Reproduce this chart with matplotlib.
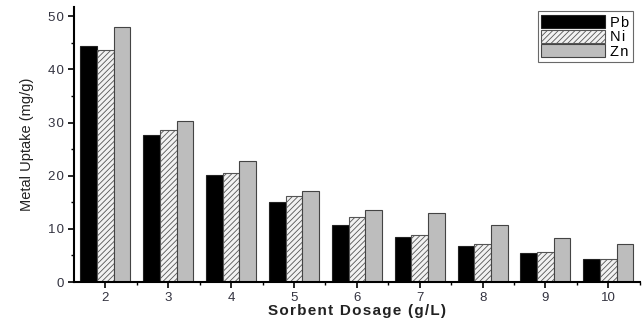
import numpy as np
import matplotlib
matplotlib.use("Agg")
import matplotlib.pyplot as plt
from matplotlib.ticker import MultipleLocator

# sorbent dosage (g/L) and metal uptake (mg/g)
dosage = [2, 3, 4, 5, 6, 7, 8, 9, 10]
pb = [44.4, 27.6, 20.2, 15.0, 10.8, 8.5, 6.8, 5.5, 4.4]
ni = [43.7, 28.6, 20.5, 16.1, 12.3, 8.9, 7.1, 5.6, 4.4]
zn = [47.9, 30.3, 22.7, 17.1, 13.5, 13.0, 10.7, 8.3, 7.1]
metals = ['Pb', 'Ni', 'Zn']

plt.rcParams['font.family'] = ['Liberation Sans', 'DejaVu Sans']
plt.rcParams['hatch.color'] = '#777777'
plt.rcParams['hatch.linewidth'] = 0.6

def spaced(s):
    # loose letter spacing like the original figure
    return '\u200a'.join(s)

fig = plt.figure(figsize=(6.43, 3.22), dpi=100)
ax = fig.add_axes([0.115, 0.124, 0.88, 0.854])

x = np.array(dosage)
w = 0.265
ax.bar(x - w, pb, w, color='black', edgecolor='#222222', linewidth=0.8, label=spaced(metals[0]))
ax.bar(x, ni, w, color='#f2f2f2', edgecolor='#555555', hatch='//////', linewidth=0.8, label=spaced(metals[1]))
ax.bar(x + w, zn, w, color='#bdbdbd', edgecolor='#444444', linewidth=0.8, label=spaced(metals[2]))

ax.set_xlim(1.5, 10.5)
ax.set_xticks(dosage)
ax.set_xticks([d + 0.5 for d in dosage], minor=True)
yt = [0, 10, 20, 30, 40, 50]
ax.set_yticks(yt)
ax.set_yticklabels([spaced(str(v)) for v in yt])
ax.yaxis.set_minor_locator(MultipleLocator(5))
ax.set_ylim(0, 51.7)

for s in ['top', 'right']:
    ax.spines[s].set_visible(False)
for s in ['left', 'bottom']:
    ax.spines[s].set_linewidth(1.5)

ax.tick_params(axis='both', which='major', direction='out', length=4, width=1.2,
               labelsize=9.5, labelcolor='#333340')
ax.tick_params(axis='both', which='minor', direction='out', length=2, width=1.0)

ax.set_xlabel(spaced('Sorbent Dosage (g/L)'), fontsize=11, color='#222222',
              fontweight='semibold', labelpad=0)
ax.set_ylabel('Metal Uptake (mg/g)', fontsize=10.5, color='#222222',
              family=['Liberation Sans Narrow', 'Liberation Sans'], labelpad=10)

leg = ax.legend(loc='upper right', bbox_to_anchor=(0.995, 1.0), fontsize=10.5,
                frameon=True, fancybox=False, edgecolor='#444444',
                handlelength=4.4, handleheight=1.0, labelspacing=0.0,
                borderpad=0.25, handletextpad=0.3, borderaxespad=0.3)
leg.get_frame().set_linewidth(0.8)

fig.savefig('out.png', dpi=100)
